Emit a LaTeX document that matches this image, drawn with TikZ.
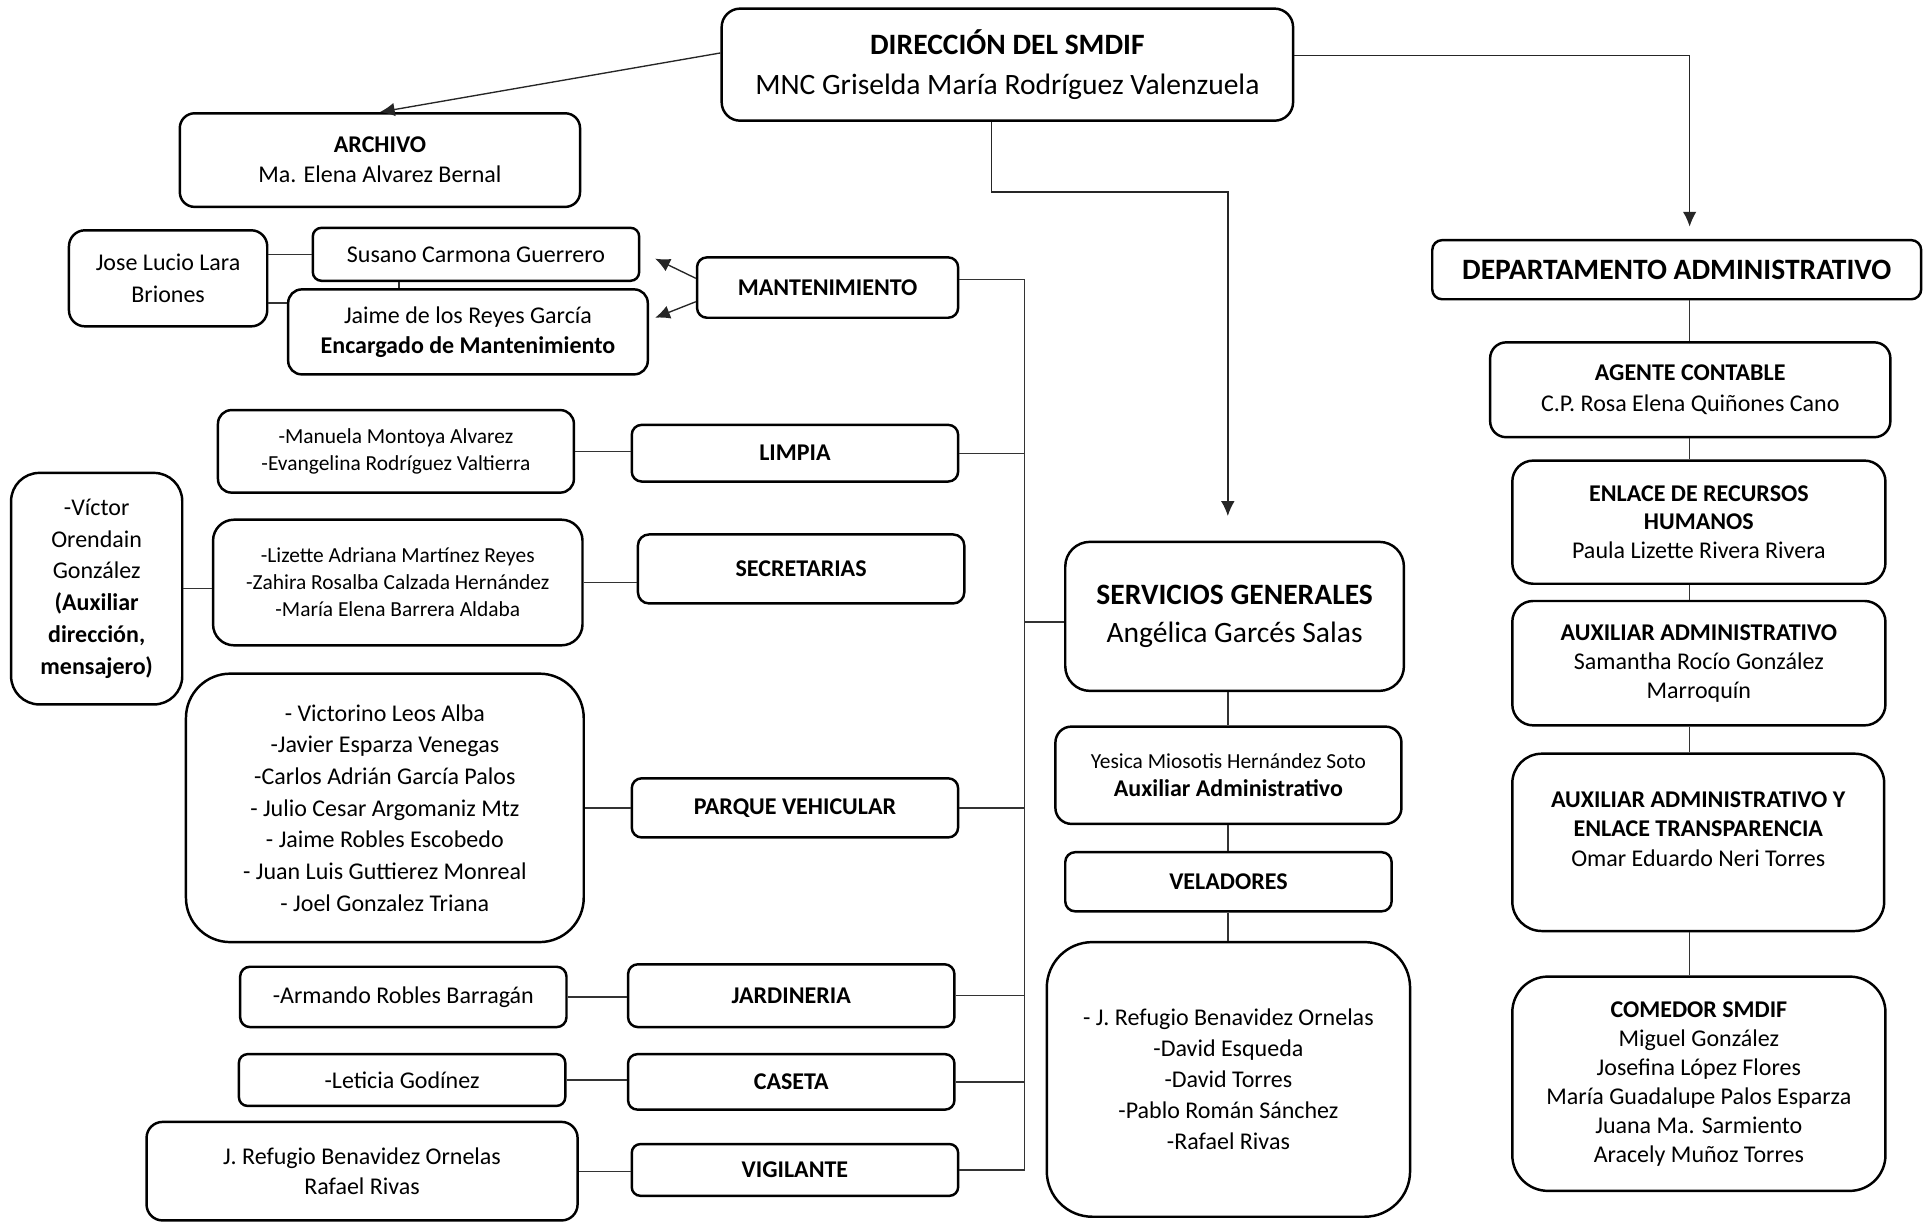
\documentclass[tikz,border=0pt]{standalone}
\usepackage{fontspec}
\setmainfont{Carlito}
\usetikzlibrary{arrows.meta}
\begin{document}
\begin{tikzpicture}
[x=1pt,y=-1pt,
  boxdecorate/.style={draw,line width=2pt,rounded corners=#1,align=center,inner sep=0pt},%
  boxdecorate/.default=8pt,%
  bigtext/.style={font=\fontsize{24}{32}\selectfont},%
  midtext/.style={font=\fontsize{19.5}{24.5}\selectfont},%
  smalltext/.style={font=\fontsize{17.4}{22}\selectfont},%
  linedecorate/.style={-,line width=1.1pt,draw=black!80},%
  arrowdecorate/.style={-{Latex[length=12pt,width=11pt]},line width=1.1pt,draw=black!85}]
\useasboundingbox (0,0) rectangle (1568,993);
%% top of the chart
\node (dir) at (818,52.5) [boxdecorate=15pt,minimum width=464pt,minimum height=91pt,bigtext]
  {\textbf{DIRECCIÓN DEL SMDIF}\\MNC Griselda María Rodríguez Valenzuela};
\node (archivo) at (308.5,130) [boxdecorate=12pt,minimum width=325pt,minimum height=76pt,midtext]
  {\textbf{ARCHIVO}\\Ma. Elena Alvarez Bernal};
\node (depadm) at (1361.5,219) [boxdecorate,minimum width=397pt,minimum height=48pt,bigtext]
  {\textbf{DEPARTAMENTO ADMINISTRATIVO}};
\node (serv) at (1002.5,500.5) [boxdecorate=20pt,minimum width=275pt,minimum height=121pt,font=\fontsize{24}{31}\selectfont]
  {\textbf{SERVICIOS GENERALES}\\Angélica Garcés Salas};
%% mantenimiento group
\node (mant) at (672,233.5) [boxdecorate,minimum width=212pt,minimum height=49pt,midtext] {\textbf{MANTENIMIENTO}};
\node (susano) at (386.5,206.5) [boxdecorate=7pt,minimum width=265pt,minimum height=43pt,midtext] {Susano Carmona Guerrero};
\node (jaime) at (380,269.5) [boxdecorate=11pt,minimum width=292pt,minimum height=69pt,midtext]
  {Jaime de los Reyes García\\\textbf{Encargado de Mantenimiento}};
\node (jose) at (136.5,226) [boxdecorate=13pt,minimum width=161pt,minimum height=78pt,font=\fontsize{19.5}{26}\selectfont]
  {Jose Lucio Lara\\Briones};
%% areas on the bus
\node (limpia) at (645.5,368) [boxdecorate,minimum width=265pt,minimum height=46pt,midtext] {\textbf{LIMPIA}};
\node (secret) at (650.5,462) [boxdecorate=9pt,minimum width=265pt,minimum height=56pt,midtext] {\textbf{SECRETARIAS}};
\node (parque) at (645.5,656) [boxdecorate,minimum width=265pt,minimum height=48pt,midtext] {\textbf{PARQUE VEHICULAR}};
\node (jard) at (642.5,808.5) [boxdecorate,minimum width=265pt,minimum height=51pt,midtext] {\textbf{JARDINERIA}};
\node (caseta) at (642.5,878.5) [boxdecorate=7.5pt,minimum width=265pt,minimum height=45pt,midtext] {\textbf{CASETA}};
\node (vigil) at (645.5,950) [boxdecorate=7pt,minimum width=265pt,minimum height=42pt,midtext] {\textbf{VIGILANTE}};
%% people lists
\node (limpialist) at (321.5,366.5) [boxdecorate=11pt,minimum width=289pt,minimum height=67pt,smalltext]
  {-Manuela Montoya Alvarez\\-Evangelina Rodríguez Valtierra};
\node (seclist) at (323,473) [boxdecorate=17pt,minimum width=300pt,minimum height=102pt,smalltext]
  {-Lizette Adriana Martínez Reyes\\-Zahira Rosalba Calzada Hernández\\-María Elena Barrera Aldaba};
\node (victor) at (78.5,478) [boxdecorate=23pt,minimum width=139pt,minimum height=188pt,font=\fontsize{19.5}{25.8}\selectfont]
  {-Víctor\\Orendain\\González\\\textbf{(Auxiliar}\\\textbf{dirección,}\\\textbf{mensajero)}};
\node (parquelist) at (312.5,656) [boxdecorate=36pt,minimum width=323pt,minimum height=218pt,font=\fontsize{19.5}{25.7}\selectfont]
  {- Victorino Leos Alba\\-Javier Esparza Venegas\\-Carlos Adrián García Palos\\- Julio Cesar Argomaniz Mtz\\
   - Jaime Robles Escobedo\\- Juan Luis Guttierez Monreal\\- Joel Gonzalez Triana};
\node (jardlist) at (327.5,809.5) [boxdecorate,minimum width=265pt,minimum height=49pt,midtext] {-Armando Robles Barragán};
\node (casetalist) at (326.5,877) [boxdecorate=7pt,minimum width=265pt,minimum height=42pt,midtext] {-Leticia Godínez};
\node (vigilist) at (294,951) [boxdecorate=13pt,minimum width=350pt,minimum height=80pt,font=\fontsize{19.5}{25}\selectfont]
  {J. Refugio Benavidez Ornelas\\Rafael Rivas};
%% servicios generales column
\node (yesica) at (997.5,629.5) [boxdecorate=13pt,minimum width=281pt,minimum height=79pt,font=\fontsize{17.4}{23}\selectfont]
  {Yesica Miosotis Hernández Soto\\\textbf{\fontsize{19.5}{23}\selectfont Auxiliar Administrativo}};
\node (veladores) at (997.5,716) [boxdecorate,minimum width=265pt,minimum height=48pt,midtext] {\textbf{VELADORES}};
\node (velist) at (997.5,876.5) [boxdecorate=37pt,minimum width=295pt,minimum height=223pt,font=\fontsize{19.5}{25.2}\selectfont]
  {- J. Refugio Benavidez Ornelas\\-David Esqueda\\-David Torres\\-Pablo Román Sánchez\\-Rafael Rivas};
%% administrative column
\node (agente) at (1372.5,316.5) [boxdecorate=13pt,minimum width=325pt,minimum height=77pt,midtext]
  {\textbf{AGENTE CONTABLE}\\C.P. Rosa Elena Quiñones Cano};
\node (enlace) at (1379.5,424) [boxdecorate=17pt,minimum width=303pt,minimum height=100pt,font=\fontsize{19.5}{23.5}\selectfont]
  {\textbf{ENLACE DE RECURSOS}\\\textbf{HUMANOS}\\Paula Lizette Rivera Rivera};
\node (auxadm) at (1379.5,538.5) [boxdecorate=17pt,minimum width=303pt,minimum height=101pt,font=\fontsize{19.5}{23.5}\selectfont]
  {\textbf{AUXILIAR ADMINISTRATIVO}\\Samantha Rocío González\\Marroquín};
\node (auxtrans) at (1379,684) [boxdecorate=24pt,minimum width=302pt,minimum height=144pt,font=\fontsize{19.5}{24}\selectfont,text depth=22pt]
  {\textbf{AUXILIAR ADMINISTRATIVO Y}\\\textbf{ENLACE TRANSPARENCIA}\\Omar Eduardo Neri Torres};
\node (comedor) at (1379.5,880) [boxdecorate=29pt,minimum width=303pt,minimum height=174pt,font=\fontsize{19.5}{23.5}\selectfont]
  {\textbf{COMEDOR SMDIF}\\Miguel González\\Josefina López Flores\\María Guadalupe Palos Esparza\\Juana Ma. Sarmiento\\Aracely Muñoz Torres};
%% points the connectors run along
\coordinate (bus) at (832,227);
\coordinate (mcol) at (997,0);
\coordinate (rcol) at (1372,0);
%% arrows from the direction
\draw[arrowdecorate] (dir.west |- 0,43) -- (archivo.north);
\draw[arrowdecorate,shorten >=10pt] (dir.east |- 0,45) -| (rcol |- depadm.north);
\draw[arrowdecorate,shorten >=20pt] (805,0 |- dir.south) -- (805,156) -| (serv.north -| mcol);
%% mantenimiento
\draw[arrowdecorate] ([yshift=7.5pt]mant.west) -- ([xshift=12pt,yshift=-3.5pt]susano.east);
\draw[arrowdecorate] ([yshift=-11.5pt]mant.west) -- ([xshift=5pt,yshift=11.5pt]jaime.east);
\draw[linedecorate] (jose.east |- susano.west) -- (susano.west);
\draw[linedecorate] (jose.east |- 0,246) -- (jaime.west |- 0,246);
\draw[linedecorate] (324,0 |- susano.south) -- (324,0 |- jaime.north);
%% bus
\draw[linedecorate] ([yshift=6.5pt]mant.east) -- (bus) |- (vigil.east);
\path
\foreach \boxname in {limpia, parque, jard, caseta} {
  (\boxname.east) edge[linedecorate] (bus |- \boxname.east)
};
\draw[linedecorate] (bus |- 0,505) -- (serv.west |- 0,505);
%% lists to their areas
\path
\foreach \startnode/\endnode in {limpialist/limpia, seclist/secret, victor/seclist, parquelist/parque,
  jardlist/jard, casetalist/caseta, vigilist/vigil} {
  (\startnode.east) edge[linedecorate] (\endnode.west |- \startnode.east)
};
%% columns
\path
\foreach \startnode/\endnode in {serv/yesica, yesica/veladores, veladores/velist} {
  (mcol |- \startnode.south) edge[linedecorate] (mcol |- \endnode.north)
};
\path
\foreach \startnode/\endnode in {depadm/agente, agente/enlace, enlace/auxadm, auxadm/auxtrans, auxtrans/comedor} {
  (rcol |- \startnode.south) edge[linedecorate] (rcol |- \endnode.north)
};
\end{tikzpicture}
\end{document}
